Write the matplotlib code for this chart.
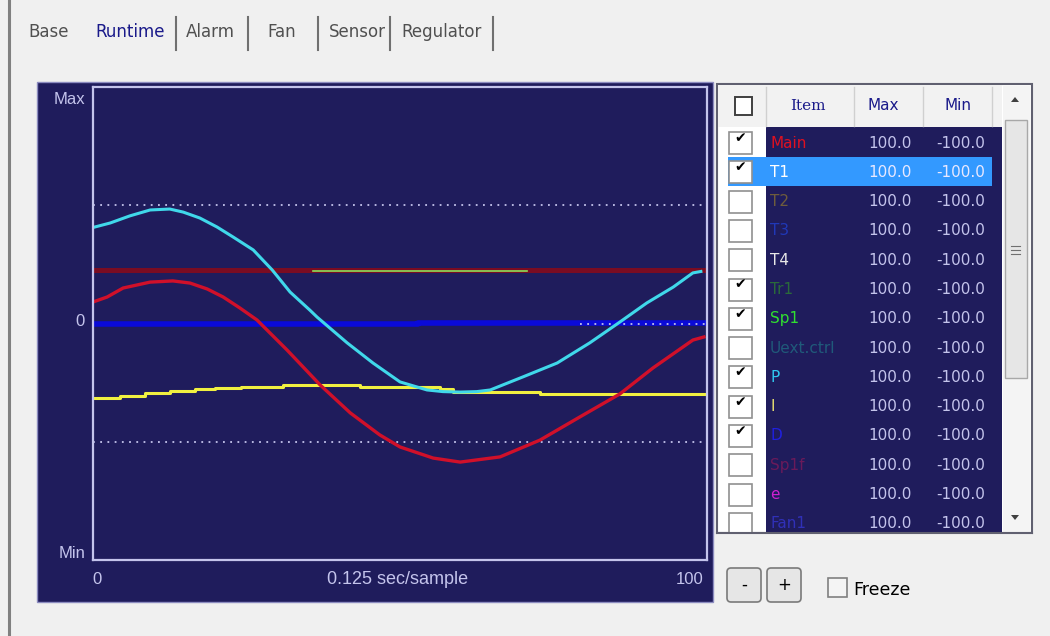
import matplotlib.pyplot as plt
from matplotlib.patches import Rectangle, FancyBboxPatch, Polygon

# tabs
tabs = ["Base", "Runtime", "Alarm", "Fan", "Sensor", "Regulator"]

# table
items = ["Main", "T1", "T2", "T3", "T4", "Tr1", "Sp1", "Uext.ctrl", "P", "I", "D", "Sp1f", "e", "Fan1"]
checked = [1, 1, 0, 0, 0, 1, 1, 0, 1, 1, 1, 0, 0, 0]
max_vals = [100.0, 100.0, 100.0, 100.0, 100.0, 100.0, 100.0, 100.0, 100.0, 100.0, 100.0, 100.0, 100.0, 100.0]
min_vals = [-100.0, -100.0, -100.0, -100.0, -100.0, -100.0, -100.0, -100.0, -100.0, -100.0, -100.0, -100.0, -100.0, -100.0]
item_colors = ["#e01020", "#ffffff", "#6e5c3c", "#2038b8", "#e8e8e8", "#2a6a3a", "#30e030",
               "#1f5a7a", "#30c8f0", "#e8e070", "#2020e0", "#6a1a5a", "#d020d0", "#3030b8"]

# runtime series (sample, value)
main_x = [0, 2.3, 4.9, 9.3, 13.0, 15.8, 18.6, 21.2, 23.9, 26.7, 31.6, 37.0, 41.9, 46.7, 50.0,
          55.4, 59.8, 66.3, 72.8, 79.3, 85.8, 91.2, 97.7, 99.5]
main_y = [9.1, 11.2, 15.0, 17.5, 18.0, 17.1, 14.6, 11.2, 6.6, 1.5, -11.2, -26.0, -37.8, -47.1, -52.2,
          -56.9, -58.6, -56.4, -49.3, -39.5, -29.8, -18.8, -7.0, -5.7]

p_x = [0, 2.8, 6.0, 9.3, 12.5, 14.7, 17.4, 20.2, 22.8, 26.1, 29.2, 32.1, 35.3, 36.5, 41.4, 45.6,
       50.0, 54.4, 57.0, 59.8, 62.5, 64.7, 70.0, 75.6, 80.9, 85.8, 90.2, 94.5, 97.7, 99.0]
p_y = [40.6, 42.5, 45.5, 48.0, 48.4, 47.1, 44.6, 40.8, 36.6, 31.1, 22.6, 13.3, 5.7, 2.7, -8.2, -16.7,
       -24.7, -28.1, -28.8, -29.0, -28.8, -28.1, -22.6, -16.7, -8.2, 0.6, 8.7, 15.4, 21.4, 22.0]

i_x = [0, 4.4, 8.5, 12.5, 16.6, 19.9, 24.1, 31.0, 43.5, 56.5, 58.6, 72.8, 100]
i_y = [-31.5, -30.7, -29.4, -28.5, -27.7, -27.3, -26.8, -26.0, -26.8, -27.7, -29.0, -29.8, -29.8]

d_x = [0, 53, 100]
d_y = [-0.4, 0.4, 0.4]

t1_x = [0, 100]
t1_y = [22.6, 22.6]

sp1_x = [35.8, 70.7]
sp1_y = [22.4, 22.4]

limit_hi = 50
limit_lo = -50

NAVY = "#1f1c5c"
LAV = "#c4c4ec"

fig = plt.figure(figsize=(10.5, 6.36), dpi=100)
fig.patch.set_facecolor("#f0f0f0")

gui = fig.add_axes([0, 0, 1, 1])
gui.set_xlim(0, 1050)
gui.set_ylim(636, 0)
gui.axis("off")

#left edge + tabs
gui.plot([9, 9], [0, 636], color="#808080", lw=2.2)
tab_x = [49, 130, 210, 282, 357, 442]
for t, x in zip(tabs, tab_x):
    col = "#1a1a8a" if t == "Runtime" else "#505050"
    gui.text(x, 32, t, ha="center", va="center", fontsize=12, color=col, family="DejaVu Sans")
for x in [176, 248, 318, 390, 493]:
    gui.plot([x, x], [17, 50], color="#707070", lw=1.5)

# chart panel
gui.add_patch(Rectangle((37, 82), 676, 520, facecolor=NAVY, edgecolor="#8c8cc0", lw=1))
gui.text(85, 99, "Max", ha="right", va="center", fontsize=12, color=LAV, family="Liberation Sans")
gui.text(85, 321, "0", ha="right", va="center", fontsize=12, color=LAV, family="Liberation Sans")
gui.text(85, 553, "Min", ha="right", va="center", fontsize=12, color=LAV, family="Liberation Sans")
gui.text(97, 580, "0", ha="center", va="center", fontsize=12, color=LAV, family="Liberation Sans")
gui.text(398, 580, "0.125 sec/sample", ha="center", va="center", fontsize=13, color=LAV, family="Liberation Sans")
gui.text(690, 580, "100", ha="center", va="center", fontsize=12, color=LAV, family="Liberation Sans")

ax = fig.add_axes([93 / 1050, (636 - 560) / 636, 614 / 1050, 473 / 636])
ax.set_facecolor(NAVY)
ax.set_xlim(0, 100)
ax.set_ylim(-100, 100)
ax.set_xticks([])
ax.set_yticks([])
for s in ax.spines.values():
    s.set_color(LAV)
    s.set_linewidth(1.6)

ax.axhline(limit_hi, color=LAV, lw=1.3, ls=(0, (1, 3)))
ax.axhline(limit_lo, color=LAV, lw=1.3, ls=(0, (1, 3)))
ax.plot(t1_x, t1_y, color="#7a0c22", lw=3.6)
ax.plot(sp1_x, sp1_y, color="#8ede5a", lw=1.2)
ax.plot(d_x, d_y, color="#0a0ad8", lw=4, drawstyle="steps-post")
ax.plot([79.3, 100], [0, 0], color=LAV, lw=1.3, ls=(0, (1, 3)))
ax.plot(i_x, i_y, color="#f0f040", lw=2.2, drawstyle="steps-post")
ax.plot(main_x, main_y, color="#d0102a", lw=2.4, solid_joinstyle="round")
ax.plot(p_x, p_y, color="#40d8ea", lw=2.2, solid_joinstyle="round")

# table
gui.add_patch(Rectangle((717, 84), 315, 449, facecolor="white", edgecolor="#606070", lw=1.5))
gui.add_patch(Rectangle((718, 85), 284, 42, facecolor="#f2f2f2", edgecolor="none"))
gui.add_patch(Rectangle((766, 127), 236, 405, facecolor=NAVY, edgecolor="none"))
for x in [766, 854, 923, 992]:
    gui.plot([x, x], [87, 126], color="#d0d0d0", lw=1)
gui.add_patch(Rectangle((735, 97), 17, 18, facecolor="white", edgecolor="#404040", lw=1.4))
gui.text(808, 106, "Item", ha="center", va="center", fontsize=11, color="#1a1a8a", family="DejaVu Serif")
gui.text(883, 106, "Max", ha="center", va="center", fontsize=11, color="#1a1a8a", family="DejaVu Sans")
gui.text(958, 106, "Min", ha="center", va="center", fontsize=11, color="#1a1a8a", family="DejaVu Sans")

row_h = 29.3
for i, name in enumerate(items):
    yc = 143 + i * row_h
    if name == "T1":
        gui.add_patch(Rectangle((728, yc - 15), 264, 29, facecolor="#3399ff", edgecolor="none"))
    gui.add_patch(Rectangle((729, yc - 11), 23, 22, facecolor="white", edgecolor="#909090", lw=1.2))
    if checked[i]:
        gui.text(740, yc - 5, "\u2714", ha="center", va="center", fontsize=10, color="black", family="DejaVu Sans")
    txt_col = "#e8e8ff" if name == "T1" else LAV
    gui.text(770, yc, name, ha="left", va="center", fontsize=11, color=item_colors[i], family="DejaVu Sans", clip_on=True)
    gui.text(912, yc, f"{max_vals[i]:.1f}", ha="right", va="center", fontsize=11, color=txt_col, family="DejaVu Sans")
    gui.text(985, yc, f"{min_vals[i]:.1f}", ha="right", va="center", fontsize=11, color=txt_col, family="DejaVu Sans")
gui.add_patch(Rectangle((717, 532), 315, 5, facecolor="#f0f0f0", edgecolor="none"))
gui.plot([717, 1032], [533, 533], color="#606070", lw=1.5)

# scrollbar
gui.add_patch(Rectangle((1003, 86), 27, 446, facecolor="#f4f4f4", edgecolor="none"))
gui.add_patch(Rectangle((1005, 120), 22, 258, facecolor="#e6e6e6", edgecolor="#a8a8a8", lw=1))
gui.add_patch(Polygon([[1011, 102], [1019, 102], [1015, 97]], facecolor="#404040"))
gui.add_patch(Polygon([[1011, 515], [1019, 515], [1015, 520]], facecolor="#404040"))
for y in [246, 250, 254]:
    gui.plot([1011, 1020], [y, y], color="#707070", lw=0.8)

# buttons
for x, lab in [(727, "-"), (767, "+")]:
    gui.add_patch(FancyBboxPatch((x, 568), 34, 34, boxstyle="round,pad=0,rounding_size=4",
                                 facecolor="#e6e6e6", edgecolor="#7a7a7a", lw=1.2))
    gui.text(x + 17, 585, lab, ha="center", va="center", fontsize=12, color="black")
gui.add_patch(Rectangle((828, 578), 19, 19, facecolor="#f4f4f4", edgecolor="#808080", lw=1.2))
gui.text(853, 590, "Freeze", ha="left", va="center", fontsize=12.5, color="black", family="DejaVu Sans")

plt.savefig("out.png", dpi=100, facecolor=fig.get_facecolor())
